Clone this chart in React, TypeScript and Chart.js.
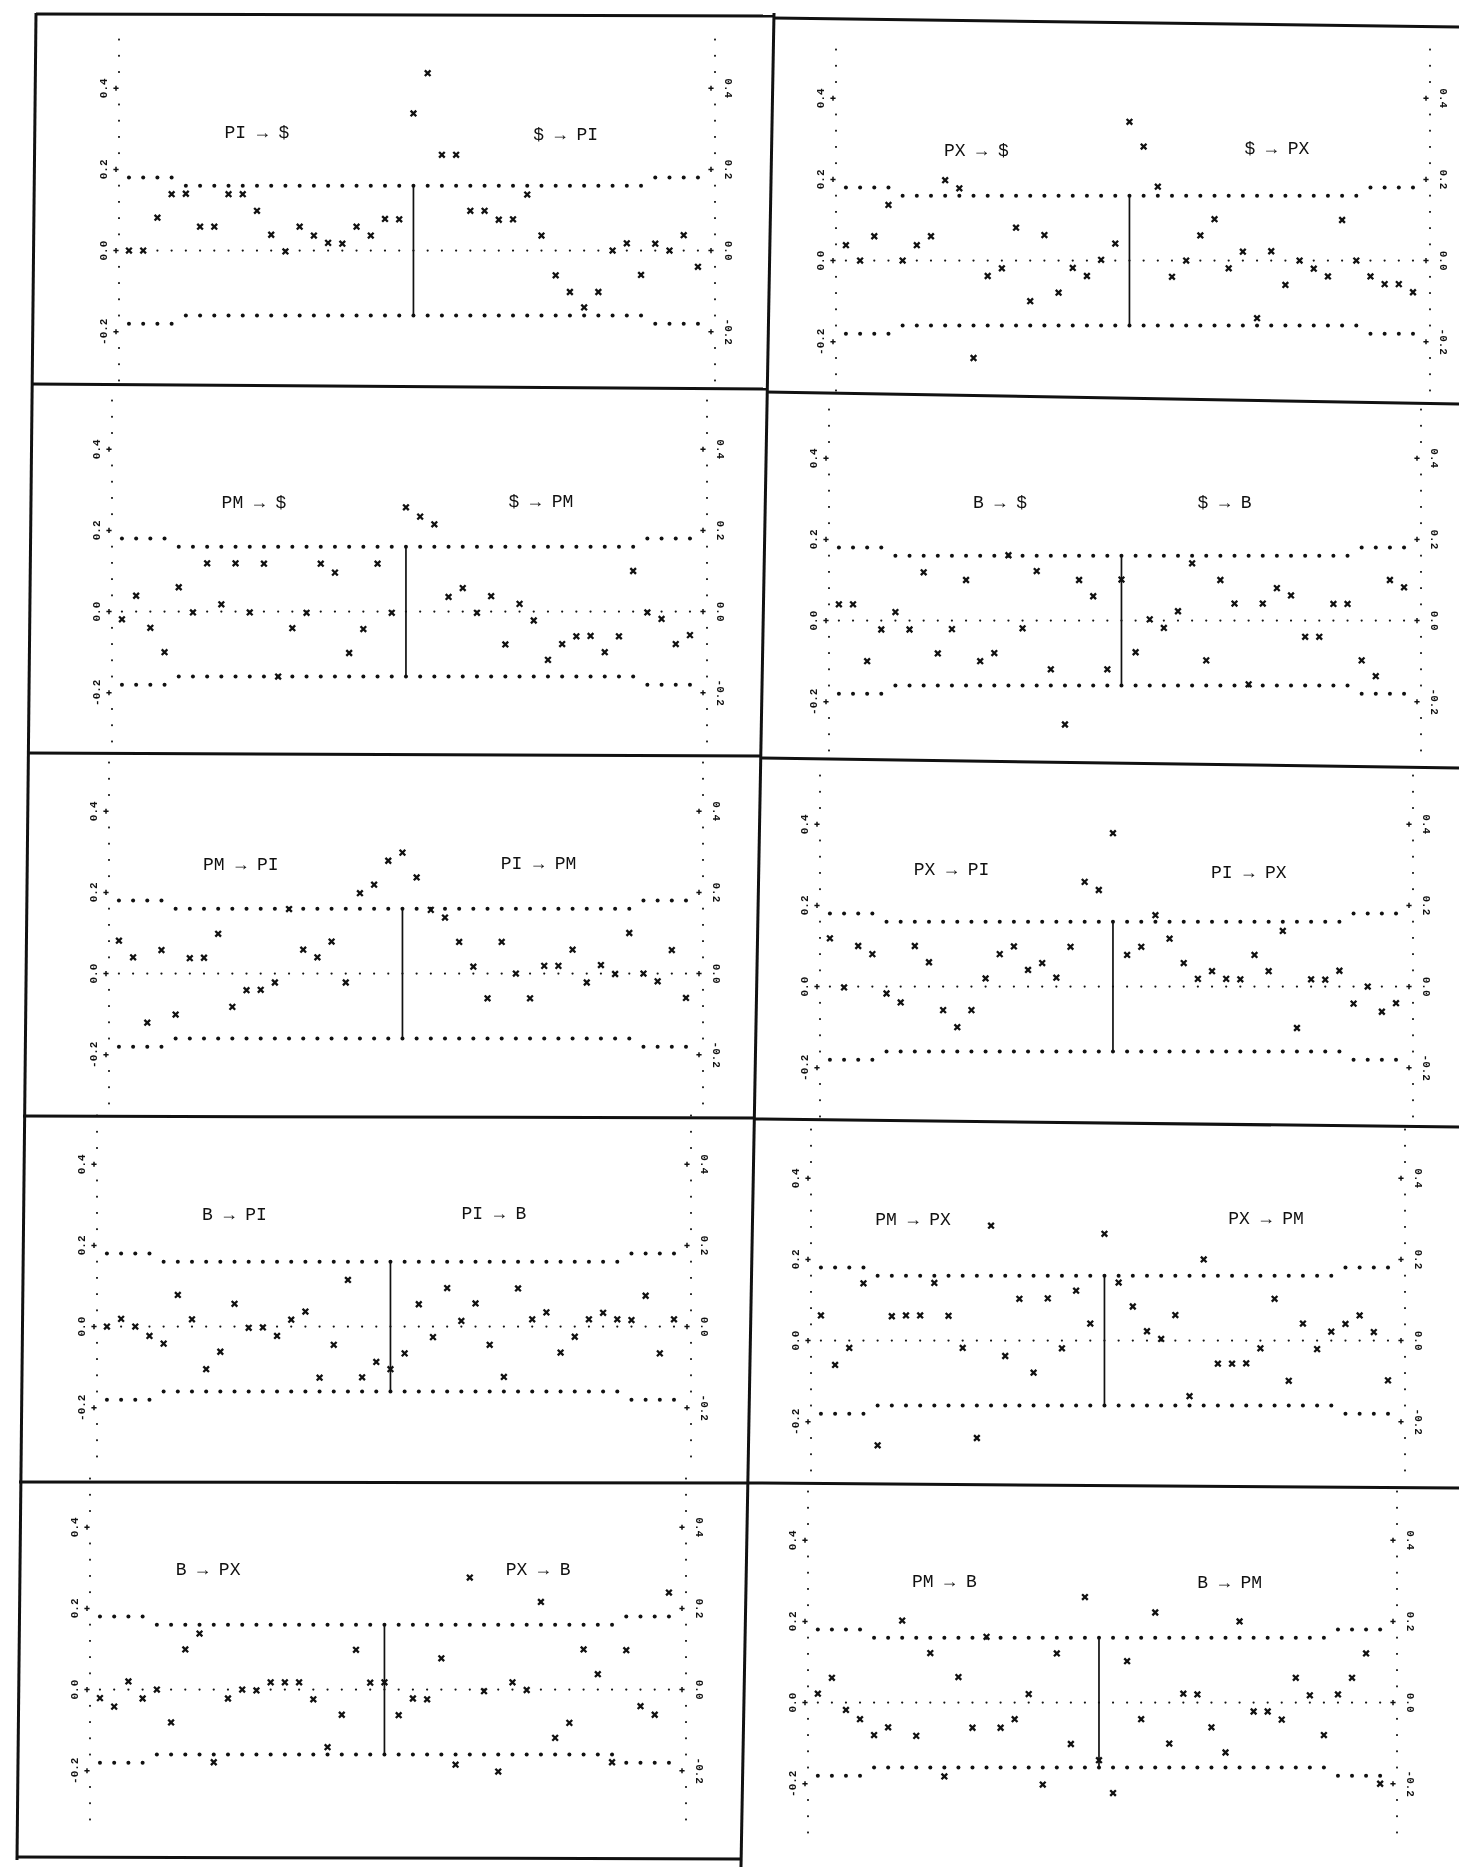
import React, { useEffect, useRef } from "react";
import { Chart, registerables } from "chart.js";

Chart.register(...registerables);

// ---------------- DATA ----------------
const LAGS = [-20, -19, -18, -17, -16, -15, -14, -13, -12, -11, -10, -9, -8, -7, -6, -5, -4, -3, -2, -1, 0,
  1, 2, 3, 4, 5, 6, 7, 8, 9, 10, 11, 12, 13, 14, 15, 16, 17, 18, 19, 20];

const BAND_UPPER = [0.18, 0.18, 0.18, 0.18,
  0.16, 0.16, 0.16, 0.16, 0.16, 0.16, 0.16, 0.16, 0.16, 0.16, 0.16,
  0.16, 0.16, 0.16, 0.16, 0.16, 0.16, 0.16, 0.16, 0.16, 0.16, 0.16,
  0.16, 0.16, 0.16, 0.16, 0.16, 0.16, 0.16, 0.16, 0.16, 0.16, 0.16,
  0.18, 0.18, 0.18, 0.18];
const BAND_LOWER = [-0.18, -0.18, -0.18, -0.18,
  -0.16, -0.16, -0.16, -0.16, -0.16, -0.16, -0.16, -0.16, -0.16, -0.16, -0.16,
  -0.16, -0.16, -0.16, -0.16, -0.16, -0.16, -0.16, -0.16, -0.16, -0.16, -0.16,
  -0.16, -0.16, -0.16, -0.16, -0.16, -0.16, -0.16, -0.16, -0.16, -0.16, -0.16,
  -0.18, -0.18, -0.18, -0.18];

const Y_TICKS = [-0.2, 0.0, 0.2, 0.4];
const Y_TICK_LABELS = ["-0.2", "0.0", "0.2", "0.4"];
const AXIS_DOTS = [-0.32, -0.28, -0.24, -0.16, -0.12, -0.08, -0.04, 0.04, 0.08, 0.12, 0.16,
  0.24, 0.28, 0.32, 0.36, 0.44, 0.48, 0.52];

const TITLES_LEFT = ["PI → $", "PX → $", "PM → $", "B → $", "PM → PI", "PX → PI", "B → PI", "PM → PX", "B → PX", "PM → B"];
const TITLES_RIGHT = ["$ → PI", "$ → PX", "$ → PM", "$ → B", "PI → PM", "PI → PX", "PI → B", "PX → PM", "PX → B", "B → PM"];

const CCF_PI_USD = [0.0, 0.0, 0.081, 0.139, 0.14, 0.059, 0.059, 0.139, 0.139, 0.098, 0.039, -0.002, 0.059, 0.037, 0.019, 0.017, 0.059, 0.037, 0.078, 0.077,
  0.338,
  0.437, 0.236, 0.236, 0.098, 0.098, 0.076, 0.077, 0.138, 0.037, -0.061, -0.102, -0.14, -0.102, 0.0, 0.018, -0.06, 0.017, 0.0, 0.038, -0.04];
const CCF_PX_USD = [0.038, 0.0, 0.06, 0.137, 0.0, 0.038, 0.06, 0.198, 0.178, -0.24, -0.038, -0.019, 0.081, -0.1, 0.063, -0.079, -0.018, -0.038, 0.002, 0.042,
  0.342,
  0.281, 0.182, -0.04, 0.0, 0.062, 0.102, -0.019, 0.022, -0.142, 0.023, -0.06, 0.0, -0.02, -0.039, 0.1, 0.0, -0.039, -0.058, -0.058, -0.078];
const CCF_PM_USD = [-0.019, 0.039, -0.04, -0.1, 0.06, -0.002, 0.119, 0.018, 0.119, -0.002, 0.118, -0.16, -0.041, -0.003, 0.118, 0.096, -0.102, -0.043, 0.118, -0.003,
  0.257,
  0.234, 0.215, 0.036, 0.058, -0.003, 0.038, -0.081, 0.019, -0.022, -0.119, -0.08, -0.061, -0.06, -0.1, -0.061, 0.1, -0.002, -0.018, -0.08, -0.058];
const CCF_B_USD = [0.04, 0.04, -0.1, -0.022, 0.021, -0.022, 0.119, -0.081, -0.021, 0.1, -0.1, -0.08, 0.161, -0.019, 0.122, -0.12, -0.256, 0.1, 0.06, -0.12,
  0.101,
  -0.078, 0.003, -0.018, 0.023, 0.141, -0.098, 0.1, 0.042, -0.157, 0.042, 0.08, 0.062, -0.04, -0.04, 0.041, 0.041, -0.098, -0.137, 0.1, 0.082];
const CCF_PM_PI = [0.081, 0.04, -0.121, 0.058, -0.101, 0.038, 0.039, 0.098, -0.082, -0.041, -0.04, -0.022, 0.159, 0.059, 0.04, 0.079, -0.022, 0.198, 0.219, 0.278,
  0.298,
  0.237, 0.157, 0.138, 0.078, 0.017, -0.061, 0.078, 0.0, -0.061, 0.019, 0.019, 0.059, -0.022, 0.021, -0.001, 0.1, 0.0, -0.019, 0.058, -0.06];
const CCF_PX_PI = [0.119, -0.002, 0.1, 0.08, -0.017, -0.039, 0.1, 0.06, -0.058, -0.1, -0.058, 0.02, 0.08, 0.099, 0.041, 0.058, 0.022, 0.098, 0.258, 0.238,
  0.378,
  0.078, 0.098, 0.176, 0.118, 0.058, 0.019, 0.038, 0.019, 0.018, 0.078, 0.038, 0.137, -0.102, 0.018, 0.017, 0.039, -0.042, 0.0, -0.062, -0.041];
const CCF_B_PI = [0.0, 0.019, 0.0, -0.023, -0.042, 0.078, 0.018, -0.105, -0.062, 0.056, -0.003, -0.002, -0.023, 0.017, 0.037, -0.126, -0.045, 0.115, -0.125, -0.087,
  -0.105,
  -0.066, 0.055, -0.026, 0.095, 0.014, 0.057, -0.045, -0.124, 0.094, 0.018, 0.035, -0.064, -0.025, 0.018, 0.034, 0.018, 0.016, 0.076, -0.066, 0.018];
const CCF_PM_PX = [0.062, -0.06, -0.018, 0.141, -0.258, 0.06, 0.062, 0.062, 0.142, 0.061, -0.018, -0.24, 0.283, -0.038, 0.103, -0.079, 0.104, -0.019, 0.123, 0.042,
  0.263,
  0.143, 0.084, 0.023, 0.004, 0.063, -0.137, 0.2, -0.057, -0.057, -0.056, -0.019, 0.103, -0.099, 0.042, -0.021, 0.022, 0.041, 0.062, 0.021, -0.098];
const CCF_B_PX = [-0.021, -0.042, 0.02, -0.022, 0.0, -0.081, 0.099, 0.138, -0.179, -0.022, 0.0, -0.002, 0.018, 0.018, 0.018, -0.024, -0.142, -0.062, 0.098, 0.017,
  0.018,
  -0.063, -0.022, -0.024, 0.077, -0.185, 0.276, -0.004, -0.202, 0.018, -0.001, 0.216, -0.119, -0.082, 0.099, 0.038, -0.179, 0.097, -0.041, -0.062, 0.239];
const CCF_PM_B = [0.022, 0.061, -0.018, -0.041, -0.08, -0.061, 0.202, -0.082, 0.122, -0.182, 0.063, -0.062, 0.162, -0.062, -0.041, 0.021, -0.202, 0.121, -0.102, 0.26,
  -0.142,
  -0.223, 0.102, -0.041, 0.222, -0.101, 0.022, 0.02, -0.061, -0.123, 0.2, -0.022, -0.022, -0.042, 0.061, 0.018, -0.08, 0.02, 0.061, 0.121, -0.2];

const SERIES = [CCF_PI_USD, CCF_PX_USD, CCF_PM_USD, CCF_B_USD, CCF_PM_PI, CCF_PX_PI, CCF_B_PI, CCF_PM_PX, CCF_B_PX, CCF_PM_B];

// ---------------- LAYOUT ----------------
const X_MIN = -20.7;
const X_MAX = 21.2;
const Y_MIN = -0.36;
const Y_MAX = 0.56;
const PX_PER_UNIT = 420;
const PAD = 40;
const INK = "#111111";

// xl/xr: pixel of left/right axis, y0: pixel of zero line; title anchors in data units
const PANELS = [
  { xl: 119, xr: 715, y0: 252, tl: [-11, 0.29], tr: [10.7, 0.285] },
  { xl: 836, xr: 1430, y0: 262, tl: [-10.8, 0.27], tr: [10.4, 0.274] },
  { xl: 112, xr: 707, y0: 613, tl: [-10.7, 0.267], tr: [9.5, 0.27] },
  { xl: 829, xr: 1421, y0: 622, tl: [-8.6, 0.29], tr: [7.3, 0.29] },
  { xl: 109, xr: 703, y0: 975, tl: [-11.4, 0.266], tr: [9.6, 0.27] },
  { xl: 820, xr: 1413, y0: 988, tl: [-11.4, 0.286], tr: [9.6, 0.28] },
  { xl: 97, xr: 691, y0: 1328, tl: [-11, 0.274], tr: [7.3, 0.276] },
  { xl: 811, xr: 1405, y0: 1342, tl: [-13.5, 0.296], tr: [11.4, 0.3] },
  { xl: 90, xr: 686, y0: 1691, tl: [-12.4, 0.294], tr: [10.8, 0.294] },
  { xl: 808, xr: 1397, y0: 1704, tl: [-11, 0.296], tr: [9.3, 0.294] },
];

const BORDERS = [
  [36, 14, 774, 16], [774, 18, 1459, 27],
  [31, 384, 766, 389], [766, 392, 1459, 404],
  [27, 753, 760, 756], [760, 758, 1459, 768],
  [23, 1116, 755, 1118], [755, 1119, 1459, 1127],
  [19, 1482, 748, 1483], [748, 1483, 1459, 1488],
  [16, 1857, 741, 1859],
  [36, 13, 17, 1860],
  [774, 13, 741, 1867],
];

function Panel({ idx }: { idx: number }) {
  const ref = useRef<HTMLCanvasElement | null>(null);
  const p = PANELS[idx];
  const width = p.xr - p.xl + PAD * 2;
  const height = Math.round((Y_MAX - Y_MIN) * PX_PER_UNIT);
  const left = p.xl - PAD;
  const top = Math.round(p.y0 - Y_MAX * PX_PER_UNIT);

  useEffect(() => {
    const values = SERIES[idx];
    const decor = {
      id: "decor" + idx,
      afterDatasetsDraw(chart: any) {
        const { ctx } = chart;
        const xs = chart.scales.x;
        const ys = chart.scales.y;
        const xL = xs.getPixelForValue(X_MIN);
        const xR = xs.getPixelForValue(X_MAX);
        ctx.save();
        ctx.fillStyle = INK;
        ctx.strokeStyle = INK;
        // dotted axes
        AXIS_DOTS.forEach((v) => {
          const py = ys.getPixelForValue(v);
          ctx.fillRect(xL - 0.9, py - 0.9, 1.8, 1.8);
          ctx.fillRect(xR - 0.9, py - 0.9, 1.8, 1.8);
        });
        // "+" ticks and rotated labels
        ctx.lineWidth = 1.5;
        ctx.font = "bold 11px 'Liberation Mono', 'DejaVu Sans Mono', monospace";
        ctx.textAlign = "center";
        ctx.textBaseline = "middle";
        Y_TICKS.forEach((v, i) => {
          const py = ys.getPixelForValue(v);
          [xL - 3, xR - 4].forEach((cx) => {
            ctx.beginPath();
            ctx.moveTo(cx - 2.6, py);
            ctx.lineTo(cx + 2.6, py);
            ctx.moveTo(cx, py - 2.6);
            ctx.lineTo(cx, py + 2.6);
            ctx.stroke();
          });
          ctx.save();
          ctx.translate(xL - 15, py);
          ctx.rotate(-Math.PI / 2);
          ctx.fillText(Y_TICK_LABELS[i], 0, 0);
          ctx.restore();
          ctx.save();
          ctx.translate(xR + 13, py);
          ctx.rotate(Math.PI / 2);
          ctx.fillText(Y_TICK_LABELS[i], 0, 0);
          ctx.restore();
        });
        // titles
        ctx.font = "18px 'Liberation Mono', 'DejaVu Sans Mono', monospace";
        ctx.fillText(TITLES_LEFT[idx], xs.getPixelForValue(p.tl[0]), ys.getPixelForValue(p.tl[1]));
        ctx.fillText(TITLES_RIGHT[idx], xs.getPixelForValue(p.tr[0]), ys.getPixelForValue(p.tr[1]));
        ctx.restore();
      },
    };

    const chart = new Chart(ref.current as HTMLCanvasElement, {
      type: "scatter",
      data: {
        datasets: [
          {
            data: LAGS.map((l, i) => ({ x: l, y: values[i] })),
            pointStyle: "crossRot",
            pointRadius: 4,
            pointBorderWidth: 2.3,
            pointBorderColor: INK,
            pointBackgroundColor: INK,
            showLine: false,
          },
          {
            data: [
              { x: LAGS[20], y: BAND_LOWER[20] },
              { x: LAGS[20], y: BAND_UPPER[20] },
            ],
            showLine: true,
            borderColor: INK,
            borderWidth: 1.7,
            pointRadius: 0,
          },
          {
            data: LAGS.map((l, i) => ({ x: l, y: BAND_UPPER[i] })),
            pointStyle: "circle",
            pointRadius: 2,
            pointBorderWidth: 0,
            pointBackgroundColor: INK,
            showLine: false,
          },
          {
            data: LAGS.map((l, i) => ({ x: l, y: BAND_LOWER[i] })),
            pointStyle: "circle",
            pointRadius: 2,
            pointBorderWidth: 0,
            pointBackgroundColor: INK,
            showLine: false,
          },
          {
            data: LAGS.map((l) => ({ x: l, y: 0 })),
            pointStyle: "circle",
            pointRadius: 1.1,
            pointBorderWidth: 0,
            pointBackgroundColor: INK,
            showLine: false,
          },
        ],
      },
      options: {
        responsive: false,
        animation: false,
        events: [],
        layout: { padding: { left: PAD, right: PAD, top: 0, bottom: 0 } },
        plugins: { legend: { display: false }, tooltip: { enabled: false } },
        scales: {
          x: { type: "linear", min: X_MIN, max: X_MAX, display: false },
          y: { type: "linear", min: Y_MIN, max: Y_MAX, display: false },
        },
      },
      plugins: [decor],
    } as any);
    return () => chart.destroy();
  }, [idx]);

  return (
    <canvas
      ref={ref}
      width={width}
      height={height}
      style={{ position: "absolute", left, top, width, height, display: "block" }}
    />
  );
}

export default function App() {
  return (
    <div style={{ position: "absolute", left: 0, top: 0, width: 1459, height: 1867, background: "#ffffff", overflow: "hidden" }}>
      <svg width={1459} height={1867} style={{ position: "absolute", left: 0, top: 0 }}>
        {BORDERS.map((b, i) => (
          <line key={i} x1={b[0]} y1={b[1]} x2={b[2]} y2={b[3]} stroke={INK} strokeWidth={3} />
        ))}
      </svg>
      {PANELS.map((_, i) => (
        <Panel key={i} idx={i} />
      ))}
    </div>
  );
}
